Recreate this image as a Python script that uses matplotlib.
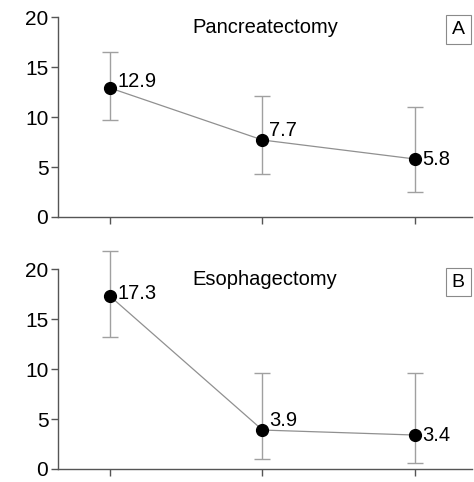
"""
Recreate two-panel complication rate chart (Pancreatectomy / Esophagectomy).
Output: out.png (474x482 px)
"""

import matplotlib
matplotlib.use('Agg')
import matplotlib.pyplot as plt

plt.rcParams['font.family'] = ['Liberation Sans', 'DejaVu Sans']

# ── Data ─────────────────────────────────────────────────────────────────────
groups = [0, 1, 2]

panc_title  = "Pancreatectomy"
panc_values = [12.9, 7.7, 5.8]
panc_lower  = [9.7, 4.3, 2.5]
panc_upper  = [16.5, 12.1, 11.0]

eso_title  = "Esophagectomy"
eso_values = [17.3, 3.9, 3.4]
eso_lower  = [13.2, 1.0, 0.6]
eso_upper  = [21.8, 9.6, 9.6]

y_ticks = [0, 5, 10, 15, 20]

# label offsets in points (dx, dy) – placement of the value text
panc_offsets = [(5, 5), (5, 7), (5, 0)]
eso_offsets  = [(5, 2), (5, 7), (5, 0)]

# ── Figure ───────────────────────────────────────────────────────────────────
fig = plt.figure(figsize=(4.74, 4.82), dpi=100)
ax_top = fig.add_axes([0.1224, 0.5498, 0.8734, 0.4149])
ax_bot = fig.add_axes([0.1224, 0.0270, 0.8734, 0.4143])

panels = [
    (ax_top, panc_title, panc_values, panc_lower, panc_upper, panc_offsets, 'A'),
    (ax_bot, eso_title, eso_values, eso_lower, eso_upper, eso_offsets, 'B'),
]

for ax, title, vals, lo, hi, offs, letter in panels:
    yerr = [[v - l for v, l in zip(vals, lo)], [h - v for v, h in zip(vals, hi)]]
    eb = ax.errorbar(groups, vals, yerr=yerr, fmt='none', ecolor='#a0a0a0',
                     elinewidth=1.0, capsize=5.5, capthick=1.0, zorder=2)
    for art in eb.lines[1] + eb.lines[2]:
        art.set_clip_on(False)
    ax.plot(groups, vals, color='#909090', linewidth=0.9, zorder=3)
    ax.plot(groups, vals, 'o', color='black', markersize=8.5, zorder=4,
            clip_on=False)

    for x, v, (dx, dy) in zip(groups, vals, offs):
        ax.annotate(f'{v:.1f}', (x, v), xytext=(dx, dy),
                    textcoords='offset points', ha='left', va='center',
                    fontsize=14.5, color='black')

    ax.text(0.5, 0.995, title, transform=ax.transAxes, ha='center', va='top',
            fontsize=14.5)
    ax.text(0.967, 0.936, letter, transform=ax.transAxes, ha='center',
            va='center', fontsize=14,
            bbox=dict(boxstyle='square,pad=0.3', facecolor='white',
                      edgecolor='#8a8a8a', linewidth=0.8))

    ax.set_xlim(-0.342, 2.375)
    ax.set_ylim(0, 20)
    ax.set_xticks(groups)
    ax.set_xticklabels([])
    ax.set_yticks(y_ticks)
    ax.tick_params(axis='y', labelsize=15, length=5, width=1,
                   color='#555555', pad=2)
    ax.tick_params(axis='x', length=5, width=1, color='#555555')
    for side in ['top', 'right']:
        ax.spines[side].set_visible(False)
    for side in ['left', 'bottom']:
        ax.spines[side].set_color('#555555')
        ax.spines[side].set_linewidth(1.0)
    ax.patch.set_alpha(0)

plt.savefig('out.png', dpi=100, facecolor='white')
plt.close()
